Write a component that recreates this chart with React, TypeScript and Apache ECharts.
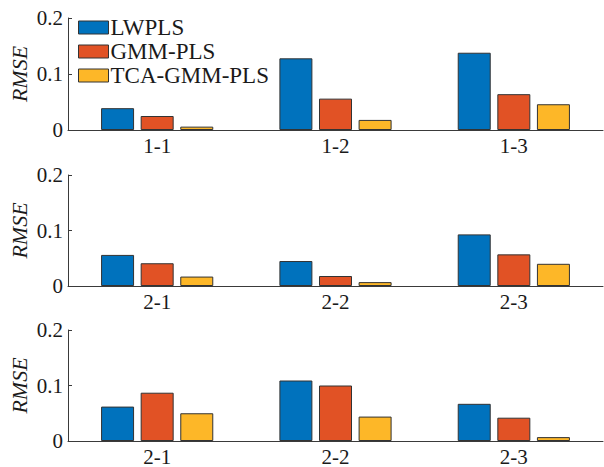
import React, { useEffect, useRef } from "react";
import * as echarts from "echarts";

const seriesNames = ["LWPLS", "GMM-PLS", "TCA-GMM-PLS"];
const colors = ["#0072BD", "#E15225", "#FDB728"];

const categories1 = ["1-1", "1-2", "1-3"];
const categories2 = ["2-1", "2-2", "2-3"];
const categories3 = ["2-1", "2-2", "2-3"];

// panel 1
const p1LWPLS = [0.039, 0.128, 0.138];
const p1GMM = [0.025, 0.056, 0.064];
const p1TCA = [0.006, 0.018, 0.046];
// panel 2
const p2LWPLS = [0.056, 0.045, 0.093];
const p2GMM = [0.041, 0.018, 0.057];
const p2TCA = [0.017, 0.007, 0.040];
// panel 3
const p3LWPLS = [0.062, 0.109, 0.067];
const p3GMM = [0.087, 0.100, 0.042];
const p3TCA = [0.050, 0.044, 0.007];

const yTicks = { min: 0, max: 0.2, interval: 0.1 };

export default function App() {
  const ref = useRef<HTMLDivElement>(null);
  useEffect(() => {
    if (!ref.current) return;
    const chart = echarts.init(ref.current, null, { renderer: "svg" });
    const font = "Liberation Serif";
    const axisColor = "#3a3a3a";
    const cats = [categories1, categories2, categories3];
    const data = [
      [p1LWPLS, p1GMM, p1TCA],
      [p2LWPLS, p2GMM, p2TCA],
      [p3LWPLS, p3GMM, p3TCA],
    ];
    const grids = [
      { left: 68, right: 1, top: 18, height: 112, outerBoundsMode: "none", containLabel: false },
      { left: 68, right: 1, top: 175, height: 111, outerBoundsMode: "none", containLabel: false },
      { left: 68, right: 1, top: 330, height: 111, outerBoundsMode: "none", containLabel: false },
    ];
    const xAxis = cats.map((c, i) => ({
      type: "category",
      gridIndex: i,
      data: c,
      axisLine: { show: true, lineStyle: { color: axisColor, width: 1 } },
      axisTick: { show: true, inside: true, alignWithLabel: true, length: 4, lineStyle: { color: axisColor } },
      axisLabel: { color: "#1a1a1a", fontFamily: font, fontSize: 21, margin: 5 },
      splitLine: { show: false },
    }));
    const yAxis = cats.map((_, i) => ({
      type: "value",
      gridIndex: i,
      min: yTicks.min,
      max: yTicks.max,
      interval: yTicks.interval,
      name: "RMSE",
      nameLocation: "middle",
      nameRotate: 90,
      nameGap: 38,
      nameMoveOverlap: false,
      nameTextStyle: { fontFamily: font, fontStyle: "italic", fontSize: 22, color: "#1a1a1a" },
      axisLine: { show: true, lineStyle: { color: axisColor, width: 1 } },
      axisTick: { show: true, inside: true, length: 4, lineStyle: { color: axisColor } },
      axisLabel: { color: "#1a1a1a", fontFamily: font, fontSize: 21, margin: 5 },
      splitLine: { show: false },
    }));
    const series: any[] = [];
    data.forEach((panel, i) => {
      panel.forEach((vals, j) => {
        series.push({
          type: "bar",
          name: seriesNames[j],
          xAxisIndex: i,
          yAxisIndex: i,
          data: vals,
          barWidth: 33,
          barGap: "20%",
          itemStyle: { color: colors[j], borderColor: "#333333", borderWidth: 1 },
        });
      });
    });
    chart.setOption({
      animation: false,
      backgroundColor: "#ffffff",
      grid: grids,
      xAxis,
      yAxis,
      legend: {
        data: seriesNames,
        orient: "vertical",
        left: 78,
        top: 16,
        padding: 0,
        itemWidth: 30,
        itemHeight: 13,
        itemGap: 1,
        icon: "rect",
        itemStyle: { borderColor: "#333333", borderWidth: 1 },
        textStyle: { fontFamily: font, fontSize: 23, color: "#1a1a1a", padding: [0, 0, 0, -3] },
      },
      series,
    });
    return () => chart.dispose();
  }, []);
  return (
    <div
      ref={ref}
      style={{ position: "absolute", left: 0, top: 0, width: 604, height: 467, background: "#fff" }}
    />
  );
}
